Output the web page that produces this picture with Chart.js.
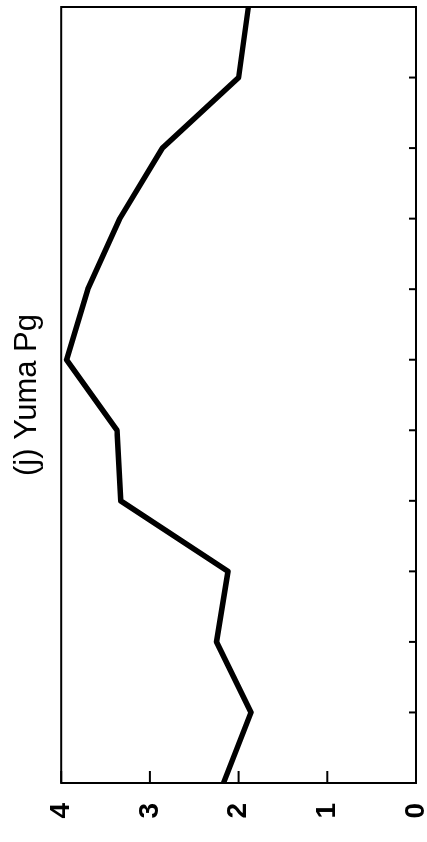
<!DOCTYPE html>
<html>
<head>
<meta charset="utf-8">
<script src="https://cdn.jsdelivr.net/npm/chart.js@4.4.1/dist/chart.umd.min.js"></script>
<style>
  html, body { margin: 0; padding: 0; background: #fff; }
  body { width: 427px; height: 842px; overflow: hidden; position: relative; }
  /* chart is drawn landscape, then turned a quarter turn counter-clockwise */
  #wrap { position: absolute; left: 0; top: 842px; width: 842px; height: 427px;
          transform-origin: 0 0; transform: rotate(-90deg); }
</style>
</head>
<body>
<div id="wrap"><canvas id="chart" width="842" height="427"></canvas></div>
<script>
// Data
const months = ['Jan', 'Feb', 'Mar', 'Apr', 'May', 'Jun', 'Jul', 'Aug', 'Sep', 'Oct', 'Nov', 'Dec'];
const values = [2.17, 1.86, 2.25, 2.12, 3.33, 3.37, 3.94, 3.70, 3.34, 2.86, 2.00, 1.89];
const yTicks = [0, 1, 2, 3, 4];
const title = '(j) Yuma Pg';

// Box outline and inward tick marks
const framePlugin = {
    id: 'frame',
    afterDraw(c) {
        const ctx = c.ctx;
        const a = c.chartArea;
        const xs = c.scales.x;
        const ys = c.scales.y;
        ctx.save();
        ctx.strokeStyle = '#000';
        ctx.lineWidth = 2;
        xs.ticks.forEach((t, i) => {
            const px = xs.getPixelForTick(i);
            ctx.beginPath();
            ctx.moveTo(px, a.bottom);
            ctx.lineTo(px, a.bottom - 7);
            ctx.stroke();
        });
        yTicks.forEach(v => {
            const py = ys.getPixelForValue(v);
            ctx.beginPath();
            ctx.moveTo(a.left, py);
            ctx.lineTo(a.left + 12, py);
            ctx.stroke();
        });
        ctx.strokeRect(a.left, a.top, a.right - a.left, a.bottom - a.top);
        ctx.restore();
    }
};

function noPad(s) {
    s.paddingTop = 0;
    s.paddingBottom = 0;
    s.paddingLeft = 0;
    s.paddingRight = 0;
}

new Chart(document.getElementById('chart'), {
    type: 'line',
    data: {
        labels: months,
        datasets: [{
            data: values,
            borderColor: '#000',
            borderWidth: 5.5,
            pointRadius: 0,
            tension: 0,
            borderJoinStyle: 'round'
        }]
    },
    options: {
        responsive: false,
        animation: false,
        devicePixelRatio: 1,
        layout: { padding: { left: 0, right: 7, top: 0, bottom: 11 } },
        plugins: {
            legend: { display: false },
            tooltip: { enabled: false },
            title: {
                display: true,
                text: title,
                fullSize: false,
                color: '#000',
                font: { family: 'Arial, "Liberation Sans", sans-serif', size: 31, weight: 'normal' },
                padding: { top: 9, bottom: 15 }
            }
        },
        scales: {
            x: {
                offset: false,
                ticks: { display: false },
                grid: { display: false },
                border: { display: false },
                afterFit(s) { s.height = 0; noPad(s); }
            },
            y: {
                min: 0,
                max: 4,
                ticks: {
                    stepSize: 1,
                    padding: 20,
                    color: '#000',
                    font: { family: 'Arial, "Liberation Sans", sans-serif', size: 28, weight: 'bold' }
                },
                grid: { display: false, drawTicks: false },
                border: { display: false },
                afterFit(s) { s.width = 59; noPad(s); }
            }
        }
    },
    plugins: [framePlugin]
});
</script>
</body>
</html>
